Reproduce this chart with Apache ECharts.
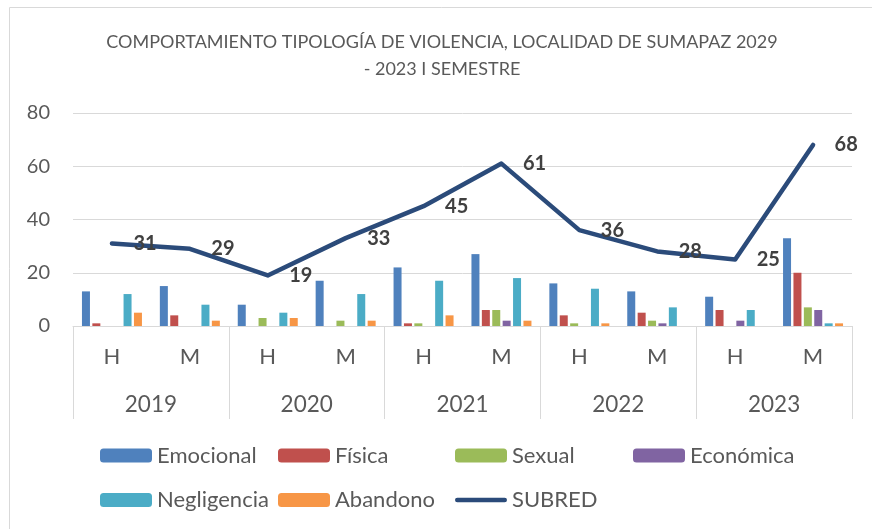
<!DOCTYPE html>
<html>
<head>
<meta charset="utf-8">
<script src="https://cdn.jsdelivr.net/npm/echarts@6/dist/echarts.min.js"></script>
<style>
html,body{margin:0;padding:0;background:#fff;}
#chart{width:872px;height:529px;}
</style>
</head>
<body>
<div id="chart"></div>
<script>
const categories = ['H','M','H','M','H','M','H','M','H','M'];
const years = ['2019','2020','2021','2022','2023'];
const emocional   = [13,15, 8,17,22,27,16,13,11,33];
const fisica      = [ 1, 4, 0, 0, 1, 6, 4, 5, 6,20];
const sexual      = [ 0, 0, 3, 2, 1, 6, 1, 2, 0, 7];
const economica   = [ 0, 0, 0, 0, 0, 2, 0, 1, 2, 6];
const negligencia = [12, 8, 5,12,17,18,14, 7, 6, 1];
const abandono    = [ 5, 2, 3, 2, 4, 2, 1, 0, 0, 1];
const subred      = [31,29,19,33,45,61,36,28,25,68];
const yTicks = [0,20,40,60,80];

const FONT = 'Lato';
const TXT = '#595959';
const GRID = '#D9D9D9';
const LINE = '#2B4B7A';

const barDefs = [
  ['Emocional', emocional, '#4F81BD'],
  ['Física', fisica, '#C0504D'],
  ['Sexual', sexual, '#9BBB59'],
  ['Económica', economica, '#8064A2'],
  ['Negligencia', negligencia, '#4BACC6'],
  ['Abandono', abandono, '#F79646']
];

const series = barDefs.map(([name, data, color]) => ({
  name, type: 'bar', data, barWidth: 8, barGap: '30%',
  itemStyle: { color }, xAxisIndex: 0, yAxisIndex: 0
}));
series.push({
  name: 'SUBRED', type: 'line', data: subred,
  symbol: 'circle', symbolSize: 1, showSymbol: true,
  lineStyle: { color: LINE, width: 4.5, cap: 'round', join: 'round' },
  itemStyle: { color: LINE, opacity: 0 },
  label: {
    show: true, position: 'right', distance: 21,
    fontFamily: FONT, fontSize: 20, fontWeight: 'bold', color: '#404040', opacity: 1
  },
  z: 5
});

const lineIcon = 'path://M2.5,0 L53.5,0 A2.5,2.5 0 0 1 53.5,5 L2.5,5 A2.5,2.5 0 0 1 2.5,0 Z';

// legend layout: one legend component per item, in a grid of columns
const legendNames = ['Emocional','Física','Sexual','Económica','Negligencia','Abandono','SUBRED'];
const colX = [95, 273, 450, 628];
const rowTop = [439.5, 484];
const legends = legendNames.map((name, i) => ({
  data: [name === 'SUBRED' ? { name, icon: lineIcon, itemStyle: { color: LINE, opacity: 1 } } : name],
  left: colX[i % 4], top: rowTop[Math.floor(i / 4)],
  itemWidth: 52, itemHeight: 14,
  textStyle: { fontFamily: FONT, fontSize: 22, color: TXT },
  selectedMode: false
}));

const chart = echarts.init(document.getElementById('chart'), null, { renderer: 'canvas' });
chart.setOption({
  animation: false,
  textStyle: { fontFamily: FONT },
  title: {
    text: 'COMPORTAMIENTO TIPOLOGÍA DE VIOLENCIA, LOCALIDAD DE SUMAPAZ 2029\n- 2023 I SEMESTRE',
    left: 437, top: 23.5, textAlign: 'center',
    textStyle: { fontFamily: FONT, fontSize: 18, fontWeight: 'normal', color: TXT, lineHeight: 27 }
  },
  graphic: [{
    type: 'rect', shape: { x: 9.5, y: 7.5, width: 900, height: 600 },
    style: { fill: 'none', stroke: GRID, lineWidth: 1 }, silent: true, z: -10
  }],
  grid: { left: 73, right: 20, top: 113, bottom: 203 },
  legend: legends,
  xAxis: [
    {
      type: 'category', data: categories, position: 'bottom',
      axisLine: { show: true, lineStyle: { color: GRID, width: 1 } },
      axisTick: { show: false },
      axisLabel: { margin: 20, fontFamily: FONT, fontSize: 22, color: TXT }
    },
    {
      type: 'category', data: years, position: 'bottom',
      axisLine: { show: false },
      axisTick: { show: true, length: 93, lineStyle: { color: GRID, width: 1 } },
      axisLabel: { margin: 67, fontFamily: FONT, fontSize: 22.5, color: TXT }
    }
  ],
  yAxis: {
    type: 'value', min: yTicks[0], max: yTicks[yTicks.length - 1], interval: 20,
    axisLine: { show: false }, axisTick: { show: false },
    splitLine: { lineStyle: { color: GRID, width: 1 } },
    axisLabel: { margin: 23, fontFamily: FONT, fontSize: 20, color: TXT }
  },
  series
});
</script>
</body>
</html>
